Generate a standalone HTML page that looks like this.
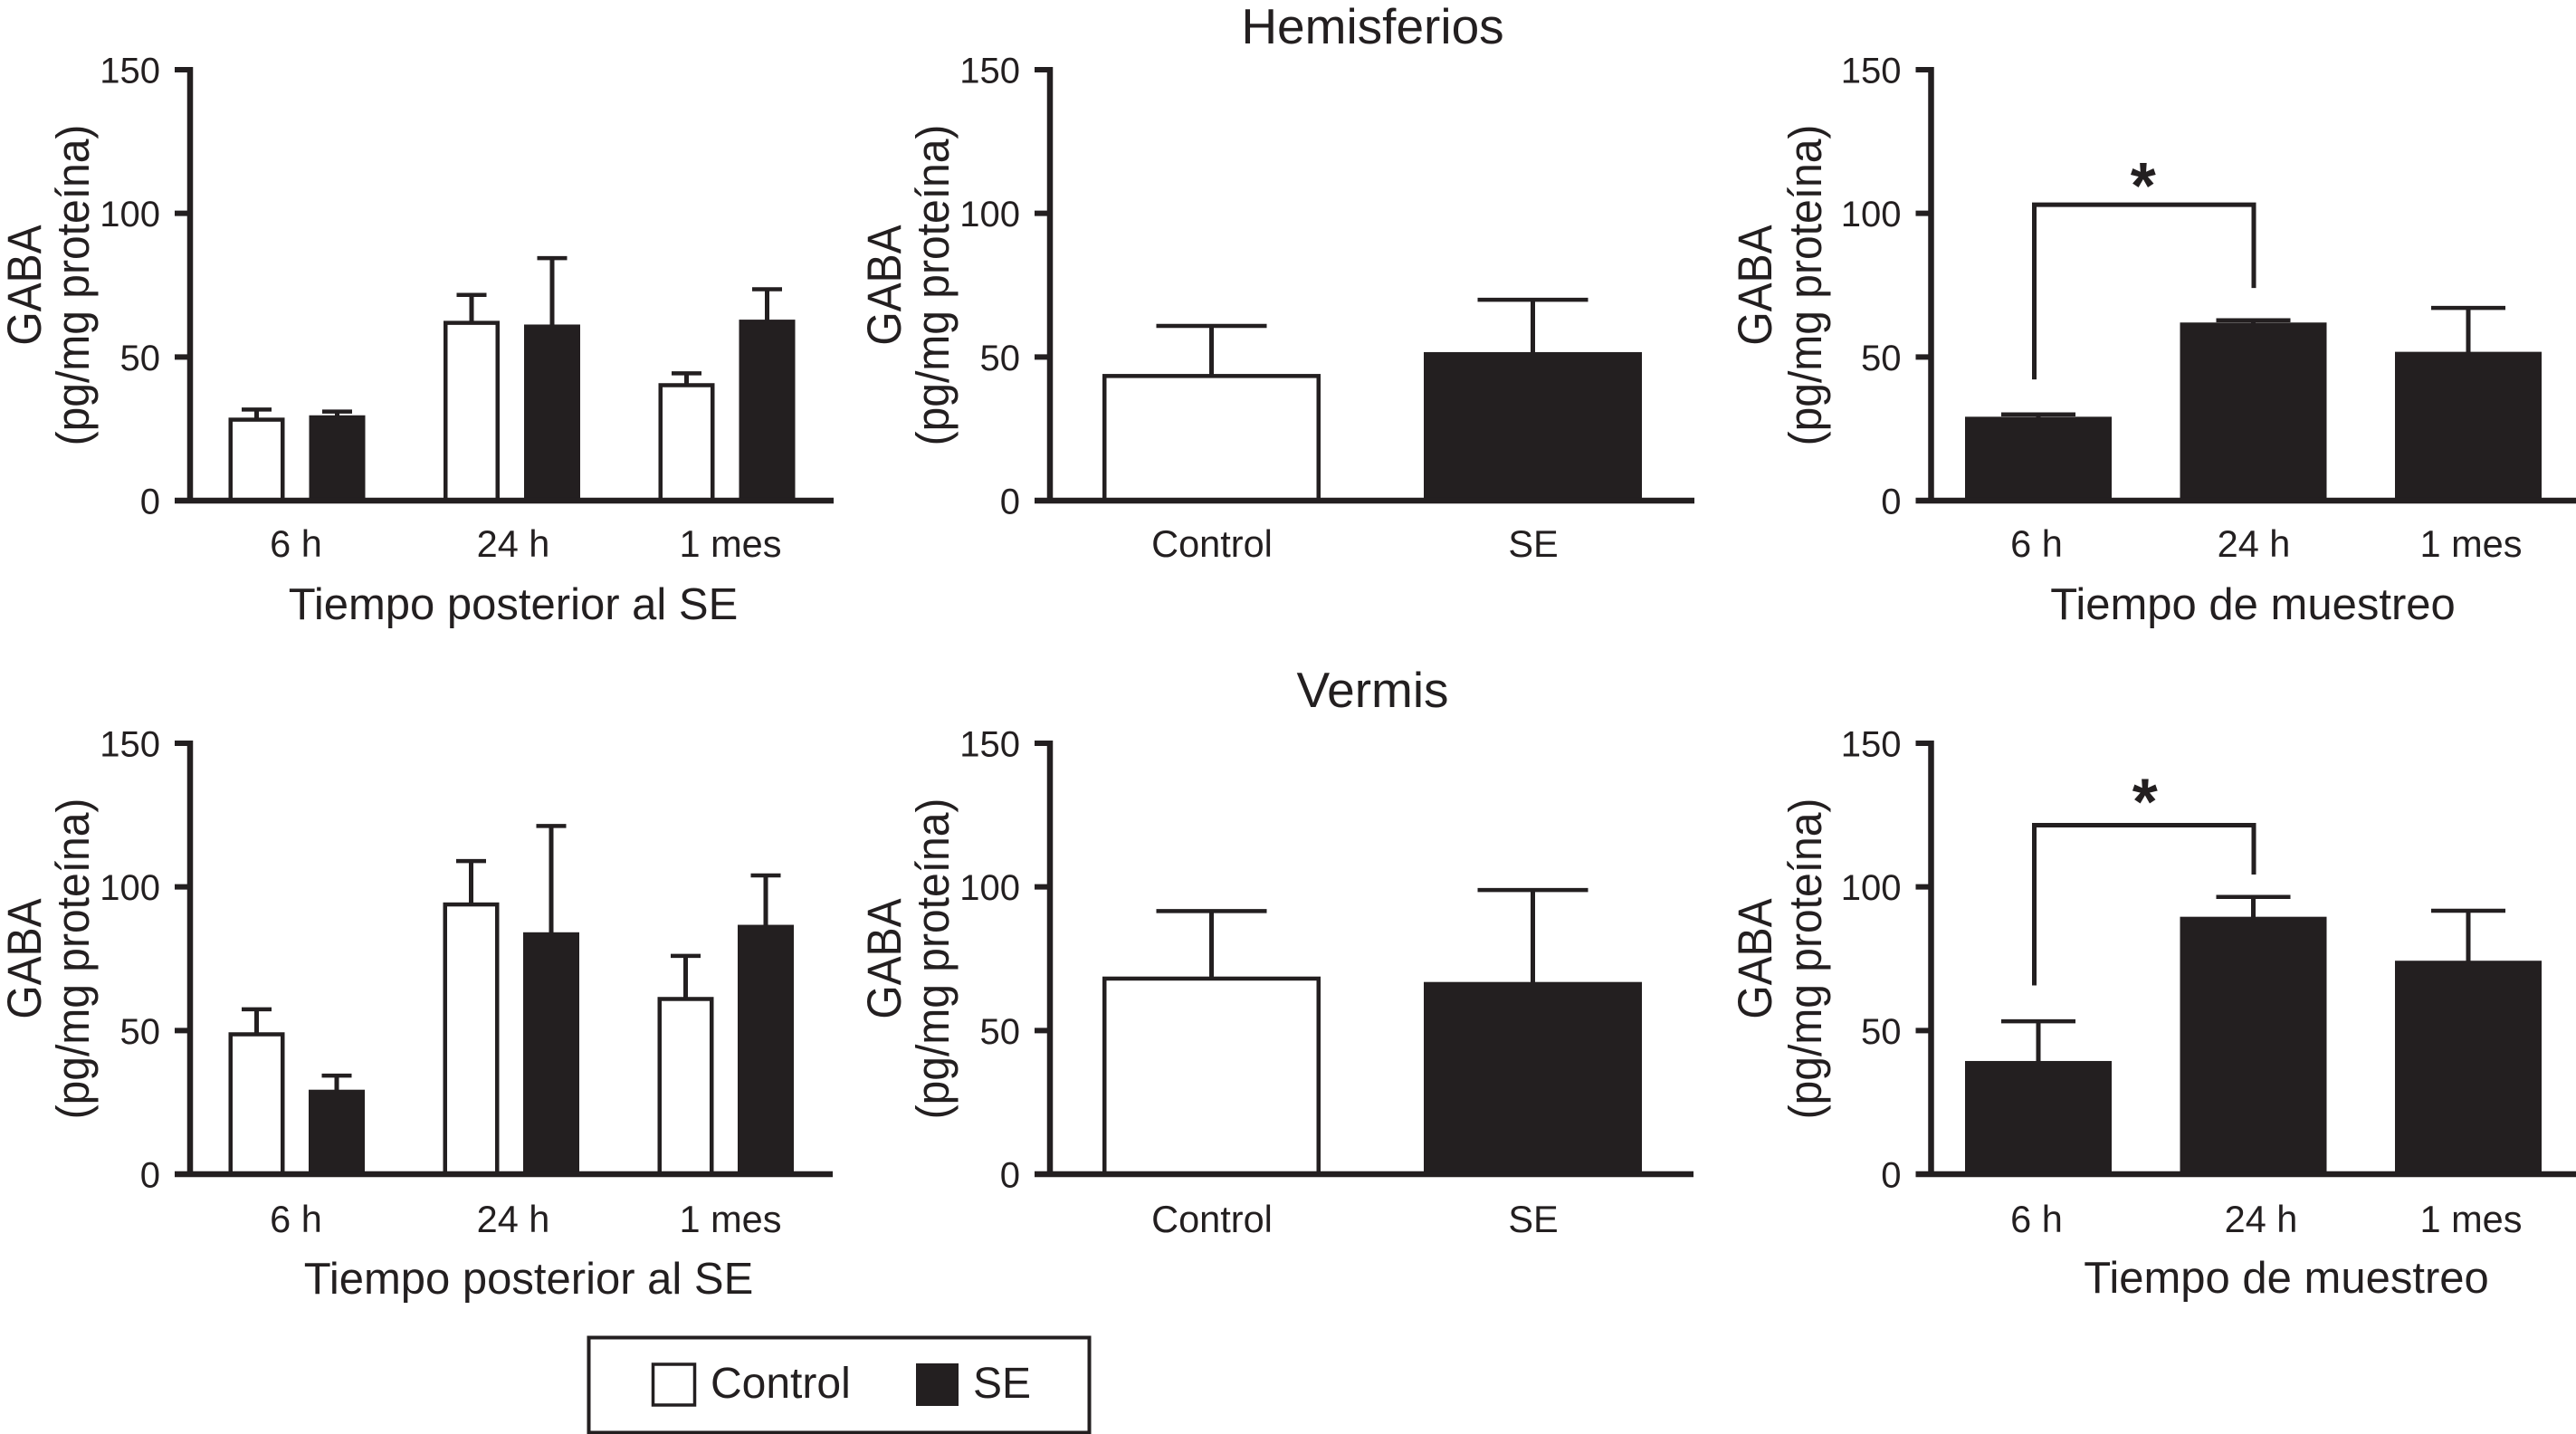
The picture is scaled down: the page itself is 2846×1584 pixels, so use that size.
<!DOCTYPE html>
<html lang="es">
<head>
<meta charset="utf-8">
<title>GABA en hemisferios y vermis</title>
<style>
  html, body { margin: 0; padding: 0; background: #fff; }
  svg { display: block; }
  text { font-family: "Liberation Sans", sans-serif; fill: #231f20; }
</style>
</head>
<body>
<svg id="figure" xmlns="http://www.w3.org/2000/svg" width="2846" height="1584" viewBox="0 0 2846 1584">
  <rect x="0" y="0" width="2846" height="1584" fill="#fff"/>
  <text x="1516.5" y="48" font-size="55" text-anchor="middle">Hemisferios</text>
  <text x="1516.5" y="781" font-size="55" text-anchor="middle">Vermis</text>
  <g>
    <rect x="650.5" y="1477.5" width="553" height="105" fill="#fff" stroke="#231f20" stroke-width="4"/>
    <rect x="721.5" y="1507" width="46" height="45" fill="#fff" stroke="#231f20" stroke-width="3.5"/>
    <text x="785" y="1544" font-size="48">Control</text>
    <rect x="1012" y="1506" width="47" height="47" fill="#231f20"/>
    <text x="1075" y="1544" font-size="48">SE</text>
  </g>
</svg>
<script>
const yTickValues = [0, 50, 100, 150];
const timeCategories = ['6 h', '24 h', '1 mes'];
const groupCategories = ['Control', 'SE'];

const hemisControlByTime = [28.5, 62.2, 40.5];
const hemisControlByTimeError = [3.2, 9.4, 3.8];
const hemisSeByTime = [29.7, 61.3, 63];
const hemisSeByTimeError = [1.3, 23.1, 10.6];
const hemisGroupMeans = [43.7, 51.7];
const hemisGroupError = [17.1, 18.2];
const hemisSampling = [29.2, 62, 51.8];
const hemisSamplingError = [0.8, 0.8, 15.3];

const vermisControlByTime = [49, 94.2, 61.3];
const vermisControlByTimeError = [8.4, 14.8, 14.7];
const vermisSeByTime = [29.4, 84.2, 86.8];
const vermisSeByTimeError = [4.9, 37, 17.2];
const vermisGroupMeans = [68.4, 66.9];
const vermisGroupError = [23.2, 32];
const vermisSampling = [39.4, 89.6, 74.3];
const vermisSamplingError = [13.8, 6.9, 17.4];

const hemisBracketLevels = [42.2, 103, 74];
const vermisBracketLevels = [65.7, 121.5, 104.3];

const INK = '#231f20';
const PX_PER_UNIT = 476 / 150;
const svg = document.getElementById('figure');
const NS = 'http://www.w3.org/2000/svg';

function make(tag, parent) {
  const el = document.createElementNS(NS, tag);
  parent.appendChild(el);
  return el;
}
function setAll(el, props) {
  for (const key in props) el.setAttribute(key, props[key]);
  return el;
}

const panels = [
  { name: 'hemisferios-time', axisX: 210, y0: 553, xEnd: 921, categories: timeCategories, first: 283.5, step: 237.5, seriesGap: 89, barW: 62, capHalf: 16.5, labelStart: 327, labelStep: 240, labelDrop: 62, titleX: 567, titleY: 684, xTitle: 'Tiempo posterior al SE', yBase: 45, yBase2: 98,
    series: [ { key: 'control', values: hemisControlByTime, errors: hemisControlByTimeError, white: true }, { key: 'se', values: hemisSeByTime, errors: hemisSeByTimeError, white: false } ] },
  { name: 'hemisferios-group', axisX: 1160, y0: 553, xEnd: 1872, categories: groupCategories, first: 1338.5, step: 355, seriesGap: 0, barW: 241, capHalf: 61, labelStart: 1339, labelStep: 355, labelDrop: 62, yBase: 995, yBase2: 1048, whiteCategory: 0,
    series: [ { key: 'group', values: hemisGroupMeans, errors: hemisGroupError, white: false } ] },
  { name: 'hemisferios-sampling', axisX: 2133.5, y0: 553, xEnd: 2846, categories: timeCategories, first: 2252, step: 237.5, seriesGap: 0, barW: 162, capHalf: 41, labelStart: 2250, labelStep: 240, labelDrop: 62, titleX: 2489, titleY: 684, xTitle: 'Tiempo de muestreo', yBase: 1957, yBase2: 2012, bracket: hemisBracketLevels, starGap: 37, starDx: 1,
    series: [ { key: 'sampling', values: hemisSampling, errors: hemisSamplingError, white: false } ] },
  { name: 'vermis-time', axisX: 210, y0: 1297, xEnd: 920, categories: timeCategories, first: 283.5, step: 237, seriesGap: 88.5, barW: 62, capHalf: 16.5, labelStart: 327, labelStep: 240, labelDrop: 64, titleX: 584, titleY: 1429, xTitle: 'Tiempo posterior al SE', yBase: 45, yBase2: 98,
    series: [ { key: 'control', values: vermisControlByTime, errors: vermisControlByTimeError, white: true }, { key: 'se', values: vermisSeByTime, errors: vermisSeByTimeError, white: false } ] },
  { name: 'vermis-group', axisX: 1160, y0: 1297, xEnd: 1871, categories: groupCategories, first: 1338.5, step: 355, seriesGap: 0, barW: 241, capHalf: 61, labelStart: 1339, labelStep: 355, labelDrop: 64, yBase: 995, yBase2: 1048, whiteCategory: 0,
    series: [ { key: 'group', values: vermisGroupMeans, errors: vermisGroupError, white: false } ] },
  { name: 'vermis-sampling', axisX: 2133.5, y0: 1297, xEnd: 2846, categories: timeCategories, first: 2252, step: 237.5, seriesGap: 0, barW: 162, capHalf: 41, labelStart: 2250, labelStep: 240, labelNudge: 8, labelDrop: 64, titleX: 2526, titleY: 1428, xTitle: 'Tiempo de muestreo', yBase: 1957, yBase2: 2012, bracket: vermisBracketLevels, starGap: 42, starDx: 3,
    series: [ { key: 'sampling', values: vermisSampling, errors: vermisSamplingError, white: false } ] }
];

function yScale(panel, value) { return panel.y0 - value * PX_PER_UNIT; }
function xScale(panel, categoryIndex, seriesIndex) {
  return panel.first + categoryIndex * panel.step + seriesIndex * panel.seriesGap;
}

panels.forEach(function (panel) {
  const g = make('g', svg);
  
  

  panel.series.forEach(function (series, s) {
    series.values.forEach(function (value, i) {
      const cx = xScale(panel, i, s);
      const top = yScale(panel, value);
      const upper = yScale(panel, value + series.errors[i]);
      const isWhite = series.white || panel.whiteCategory === i;

      const stem = make('line', g);
      
      
      setAll(stem, { x1: cx, x2: cx, y1: top + 1, y2: upper, stroke: INK, 'stroke-width': 5 });

      const cap = make('line', g);
      
      
      setAll(cap, { x1: cx - panel.capHalf, x2: cx + panel.capHalf, y1: upper, y2: upper, stroke: INK, 'stroke-width': 4.5 });

      const bar = make('rect', g);
      
      
      if (isWhite) {
        setAll(bar, { x: cx - panel.barW / 2 + 2.25, y: top + 1, width: panel.barW - 4.5, height: panel.y0 - top - 1, fill: '#fff', stroke: INK, 'stroke-width': 4.5 });
      } else {
        setAll(bar, { x: cx - panel.barW / 2, y: top, width: panel.barW, height: panel.y0 - top, fill: INK });
      }
    });
  });

  const yAxis = make('line', g);
  
  
  setAll(yAxis, { x1: panel.axisX, x2: panel.axisX, y1: yScale(panel, 150) - 3, y2: panel.y0 + 3, stroke: INK, 'stroke-width': 6.5 });

  const xAxis = make('line', g);
  
  
  setAll(xAxis, { x1: panel.axisX - 17, x2: panel.xEnd, y1: panel.y0, y2: panel.y0, stroke: INK, 'stroke-width': 6.5 });

  yTickValues.forEach(function (tick) {
    const tickMark = make('line', g);
    
    
    setAll(tickMark, { x1: panel.axisX - 17, x2: panel.axisX, y1: yScale(panel, tick), y2: yScale(panel, tick), stroke: INK, 'stroke-width': 6 });

    const tickLabel = make('text', g);
    
    
    setAll(tickLabel, { x: panel.axisX - 33, y: yScale(panel, tick) + 14.5, 'font-size': 40, 'text-anchor': 'end' });
    tickLabel.textContent = String(tick);
  });

  panel.categories.forEach(function (category, i) {
    const catLabel = make('text', g);
    
    
    const nudge = (panel.labelNudge && i === 1) ? panel.labelNudge : 0;
    setAll(catLabel, { x: panel.labelStart + i * panel.labelStep + nudge, y: panel.y0 + panel.labelDrop, 'font-size': 41.5, 'text-anchor': 'middle' });
    catLabel.textContent = category;
  });

  if (panel.xTitle) {
    const xTitle = make('text', g);
    
    
    setAll(xTitle, { x: panel.titleX, y: panel.titleY, 'font-size': 49, 'text-anchor': 'middle' });
    xTitle.textContent = panel.xTitle;
  }

  const yCenter = panel.y0 - 238;
  const yTitle = make('text', g);
  
  
  setAll(yTitle, { 'font-size': 48, 'text-anchor': 'middle', transform: 'translate(' + panel.yBase + ' ' + yCenter + ') rotate(-90) scale(1 1.1)' });
  yTitle.textContent = 'GABA';

  const yUnit = make('text', g);
  
  
  setAll(yUnit, { 'font-size': 48, 'text-anchor': 'middle', transform: 'translate(' + panel.yBase2 + ' ' + yCenter + ') rotate(-90) scale(1 1.06)' });
  yUnit.textContent = '(pg/mg proteína)';

  if (panel.bracket) {
    const leftX = xScale(panel, 0, 0) - 4.5;
    const rightX = xScale(panel, 1, 0) + 0.5;
    const topY = yScale(panel, panel.bracket[1]);
    const bracket = make('polyline', g);
    
    
    setAll(bracket, {
      points: leftX + ',' + yScale(panel, panel.bracket[0]) + ' ' + leftX + ',' + topY + ' ' + rightX + ',' + topY + ' ' + rightX + ',' + yScale(panel, panel.bracket[2]),
      fill: 'none', stroke: INK, 'stroke-width': 5
    });

    const star = make('text', g);
    
    
    setAll(star, { x: (leftX + rightX) / 2 - 2 + panel.starDx, y: topY - panel.starGap + 41, 'font-size': 72, 'font-weight': 'bold', 'text-anchor': 'middle' });
    star.textContent = '*';
  }
});
</script>
</body>
</html>
